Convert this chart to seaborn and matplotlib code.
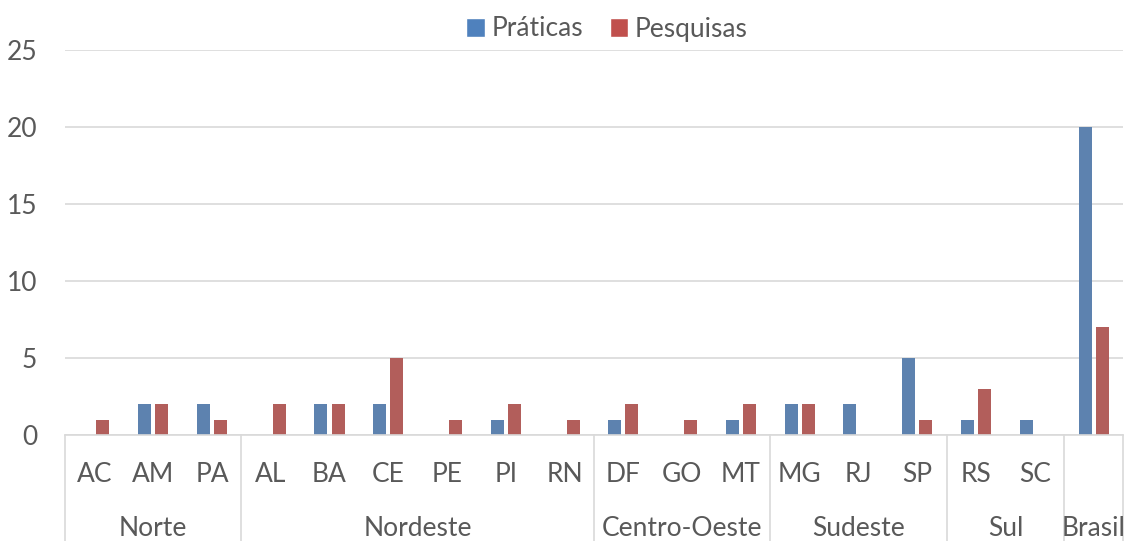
import pandas as pd
import matplotlib
matplotlib.use("Agg")
import matplotlib.pyplot as plt
import seaborn as sns
from matplotlib.patches import Patch

states = ["AC", "AM", "PA", "AL", "BA", "CE", "PE", "PI", "RN",
          "DF", "GO", "MT", "MG", "RJ", "SP", "RS", "SC", ""]
praticas = [0, 2, 2, 0, 2, 2, 0, 1, 0, 1, 0, 1, 2, 2, 5, 1, 1, 20]
pesquisas = [1, 2, 1, 2, 2, 5, 1, 2, 1, 2, 1, 2, 2, 0, 1, 3, 0, 7]
regions = ["Norte", "Nordeste", "Centro-Oeste", "Sudeste", "Sul", "Brasil"]
region_sizes = [3, 6, 3, 3, 2, 1]
series = ["Práticas", "Pesquisas"]
colors = ["#4F81BD", "#C0504D"]

sns.set_theme(style="white")
plt.rcParams["font.family"] = ["Lato", "DejaVu Sans"]
text_color = "#595959"
grid_color = "#D9D9D9"
fs = 19

# slot ids so the empty Brasil label stays its own category
slots = [f"{i:02d}" for i in range(len(states))]
df = pd.DataFrame({"slot": slots * 2,
                   "value": praticas + pesquisas,
                   "serie": [series[0]] * len(slots) + [series[1]] * len(slots)})

fig = plt.figure(figsize=(11.26, 5.41), dpi=100)
ax = fig.add_axes([65 / 1126, 106 / 541, 1058 / 1126, 385 / 541])
sns.barplot(data=df, x="slot", y="value", hue="serie", order=slots,
            palette=colors, width=0.58, gap=0.24, linewidth=0, ax=ax)

ax.set_ylim(0, 25)
ax.set_yticks([0, 5, 10, 15, 20, 25])
ax.set_xlim(-0.5, len(slots) - 0.5)
ax.yaxis.grid(True, color=grid_color, linewidth=1.2)
ax.set_axisbelow(True)
for side in ["top", "right", "left"]:
    ax.spines[side].set_visible(False)
ax.spines["bottom"].set_color(grid_color)
ax.spines["bottom"].set_linewidth(1.2)
ax.tick_params(axis="y", length=0, labelsize=fs, labelcolor=text_color, pad=20)
ax.set_xticks([])
ax.set_xlabel("")
ax.set_ylabel("")
ax.get_legend().remove()

# two-level category axis
trans = ax.get_xaxis_transform()
for i, s in enumerate(states):
    ax.text(i, -40 / 385, s, transform=trans, ha="center", va="center",
            fontsize=fs, color=text_color)
start = 0
edges = [0]
for name, size in zip(regions, region_sizes):
    ax.text(start + size / 2 - 0.5, -94 / 385, name, transform=trans,
            ha="center", va="center", fontsize=fs, color=text_color)
    start += size
    edges.append(start)
for e in edges:
    ax.plot([e - 0.5, e - 0.5], [0, -106 / 385], transform=trans,
            color=grid_color, linewidth=1.2, clip_on=False)

handles = [Patch(facecolor=c, label=s) for c, s in zip(colors, series)]
fig.legend(handles=handles, loc="center", bbox_to_anchor=(607 / 1126, 1 - 29 / 541),
           ncol=2, frameon=False, fontsize=fs, labelcolor=text_color,
           handlelength=0.7, handleheight=0.7, handletextpad=0.25, columnspacing=1.0)

fig.savefig("out.png", dpi=100)
